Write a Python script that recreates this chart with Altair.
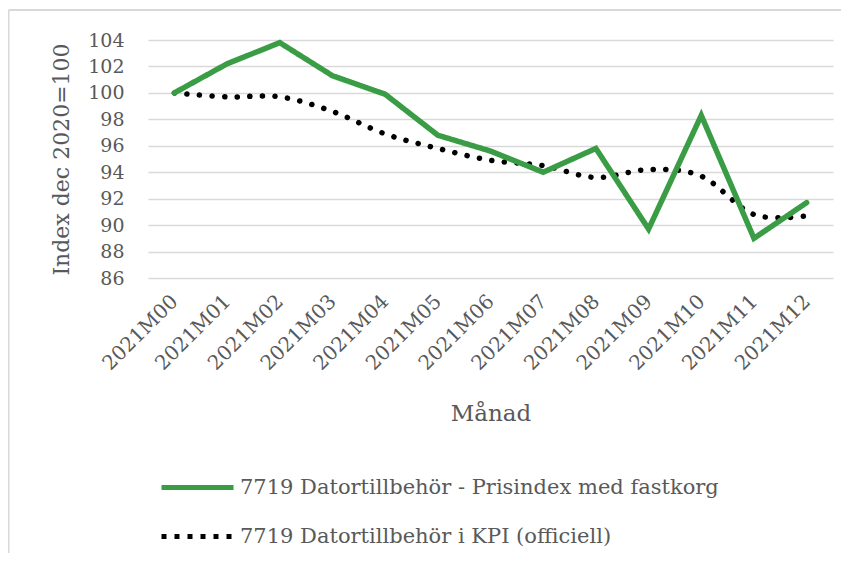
import altair as alt
import pandas as pd

months = ["2021M00", "2021M01", "2021M02", "2021M03", "2021M04", "2021M05", "2021M06",
          "2021M07", "2021M08", "2021M09", "2021M10", "2021M11", "2021M12"]
series_fast = "7719 Datortillbehör - Prisindex med fastkorg"
series_kpi = "7719 Datortillbehör i KPI (officiell)"
fastkorg = [100.0, 102.2, 103.8, 101.3, 99.9, 96.8, 95.6, 94.0, 95.8, 89.7, 98.3, 89.0, 91.7]
kpi = [100.0, 99.7, 99.7, 98.6, 96.9, 95.8, 94.9, 94.5, 93.6, 94.2, 93.7, 90.8, 90.7]
y_ticks = [86, 88, 90, 92, 94, 96, 98, 100, 102, 104]

rows = []
for m, v in zip(months, fastkorg):
    rows.append({"Månad": m, "serie": series_fast, "värde": v})
for m, v in zip(months, kpi):
    rows.append({"Månad": m, "serie": series_kpi, "värde": v})
df = pd.DataFrame(rows)

FONT = "DejaVu Serif"
GRAY = "#595959"
GREEN = "#3a9d46"

legend_opts = dict(title=None, orient="none", legendX=11, legendY=409,
                   symbolType="stroke", symbolSize=5184, symbolStrokeWidth=5,
                   labelFontSize=21, rowPadding=-23, labelOffset=4, labelColor=GRAY,
                   labelFont=FONT, labelLimit=700)

x_enc = alt.X("Månad:N", sort=months,
              axis=alt.Axis(title="Månad", labelAngle=-45, labelAlign="right",
                            labelBaseline="middle", labelPadding=20, ticks=False,
                            domain=False, labelOverlap=False, titlePadding=29,
                            labelFontSize=20, titleFontSize=23))
y_enc = alt.Y("värde:Q", scale=alt.Scale(domain=[86, 104], nice=False, zero=False),
              axis=alt.Axis(title="Index dec 2020=100", values=y_ticks, ticks=False,
                            domain=False, labelOverlap=False, labelFlush=False,
                            labelPadding=24, titlePadding=14, grid=True,
                            labelFontSize=19, titleFontSize=22))
color_enc = alt.Color("serie:N",
                      scale=alt.Scale(domain=[series_fast, series_kpi], range=[GREEN, "#000000"]),
                      legend=alt.Legend(**legend_opts))
dash_enc = alt.StrokeDash("serie:N",
                          scale=alt.Scale(domain=[series_fast, series_kpi],
                                          range=[[1, 0], [5, 8]]),
                          legend=alt.Legend(**legend_opts))

base = alt.Chart(df).encode(x=x_enc, y=y_enc, color=color_enc)

green_line = base.transform_filter(alt.datum.serie == series_fast).encode(
    strokeDash=dash_enc).mark_line(strokeWidth=5.5, strokeCap="round", strokeJoin="miter")
kpi_line = base.transform_filter(alt.datum.serie == series_kpi).mark_line(
    strokeWidth=5.5, strokeCap="round", strokeDash=[0.1, 12.5], interpolate="cardinal")

border_top = alt.Chart(alt.Data(values=[{}])).mark_rule(color="#d9d9d9", strokeWidth=2).encode(
    x=alt.value(-139.5), x2=alt.value(720), y=alt.value(-30))
border_left = alt.Chart(alt.Data(values=[{}])).mark_rule(color="#d9d9d9", strokeWidth=2).encode(
    x=alt.value(-139.5), y=alt.value(-30), y2=alt.value(560))

chart = alt.layer(border_top, border_left, kpi_line, green_line).properties(
    width=685, height=238,
    autosize=alt.AutoSizeParams(type="none"),
    padding={"left": 140, "top": 32, "right": 8, "bottom": 275},
).configure_view(stroke=None).configure_axis(
    labelFont=FONT, titleFont=FONT, labelColor=GRAY, titleColor=GRAY,
    titleFontWeight="normal", gridColor="#d9d9d9", gridWidth=1.5
).configure_legend(labelFont=FONT, labelColor=GRAY)

chart.save("out.html", embed_options={"renderer": "svg", "actions": False})
